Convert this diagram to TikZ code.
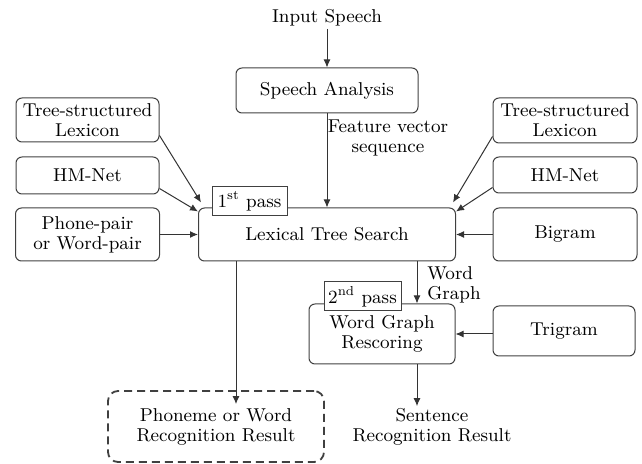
\documentclass[tikz,border=0pt]{standalone}
\usetikzlibrary{arrows.meta}

\begin{document}
\begin{tikzpicture}
        [x=0.5pt,y=-0.5pt,every node/.style={font=\fontsize{9.3}{10}\selectfont,align=center,inner sep=1pt},
        box/.style={draw=black!75,line width=0.5pt,rounded corners=3pt},
        tag/.style={draw=black!75,line width=0.5pt,fill=white,minimum height=14.5pt},
        arr/.style={-{Latex[length=4pt,width=3.5pt]},line width=0.5pt,draw=black!80}]
        \useasboundingbox (0,0) rectangle (642,464);
        
        \node (inp) at (327,18) {Input Speech};
        \node [box,minimum width=91pt,minimum height=22.5pt] (ana) at (327,90.5) {Speech Analysis};
        \node (feat) at (388,138) {Feature vector\\sequence};
        
        \node [box,minimum width=71.5pt,minimum height=22pt] (lexL) at (87.5,120) {Tree-structured\\Lexicon};
        \node [box,minimum width=71.5pt,minimum height=18.5pt] (hmL) at (87.5,175.5) {HM-Net};
        \node [box,minimum width=72pt,minimum height=26.5pt] (ppL) at (87.5,234.5) {Phone-pair\\or Word-pair};
        
        \node [box,minimum width=128.5pt,minimum height=26.5pt] (lts) at (327,234.5) {Lexical Tree Search};
        \node [tag,minimum width=37.5pt] (pass1) at (249.5,201.5) {1\textsuperscript{st} pass};
        
        \node [box,minimum width=72pt,minimum height=22.5pt] (lexR) at (565,120.5) {Tree-structured\\Lexicon};
        \node [box,minimum width=72pt,minimum height=18pt] (hmR) at (565,175) {HM-Net};
        \node [box,minimum width=72pt,minimum height=26.5pt] (bigram) at (565,234.5) {Bigram};
        
        \node [box,minimum width=73pt,minimum height=30pt] (wgr) at (382,334) {Word Graph\\Rescoring};
        \node [tag,minimum width=38.5pt] (pass2) at (362.5,296.5) {2\textsuperscript{nd} pass};
        \node [box,minimum width=71pt,minimum height=25pt] (trigram) at (564,331) {Trigram};
        \node [anchor=west,align=left] (wglab) at (425,285) {Word\\Graph};
        
        \node [box,dashed,dash pattern=on 4pt off 2.5pt,line width=0.9pt,rounded corners=5pt,
               minimum width=108pt,minimum height=35.5pt] (phres) at (216,426.5) {Phoneme or Word\\Recognition Result};
        \node (sres) at (432,427) {Sentence\\Recognition Result};
        
        \coordinate (wgx) at (417,0);
        \coordinate (phx) at (236,0);
        
        \draw [arr] (inp) -- (ana);
        \draw [arr] (ana) -- (lts);
        
        \draw [arr] ([yshift=3.5pt]lexL.south east) -- ([xshift=1.5pt,yshift=2.5pt]lts.north west);
        \draw [arr] ([yshift=3pt]hmL.south east) -- ([yshift=-2pt]lts.north west);
        \draw [arr] (ppL) -- (lts);
        
        \draw [arr] ([yshift=3.5pt]lexR.south west) -- ([xshift=-1.5pt,yshift=2.5pt]lts.north east);
        \draw [arr] ([yshift=3pt]hmR.south west) -- ([yshift=-2pt]lts.north east);
        \draw [arr] (bigram) -- (lts);
        
        \draw [arr] (lts.south -| wgx) -- (wgr.north -| wgx);
        \draw [arr] (trigram.west |- wgr.east) -- (wgr.east);
        \draw [arr] (wgr.south -| wgx) -- (sres.north -| wgx);
        \draw [arr,shorten >=-7pt] (lts.south -| phx) -- (phres.north -| phx);
    \end{tikzpicture}
\end{document}
